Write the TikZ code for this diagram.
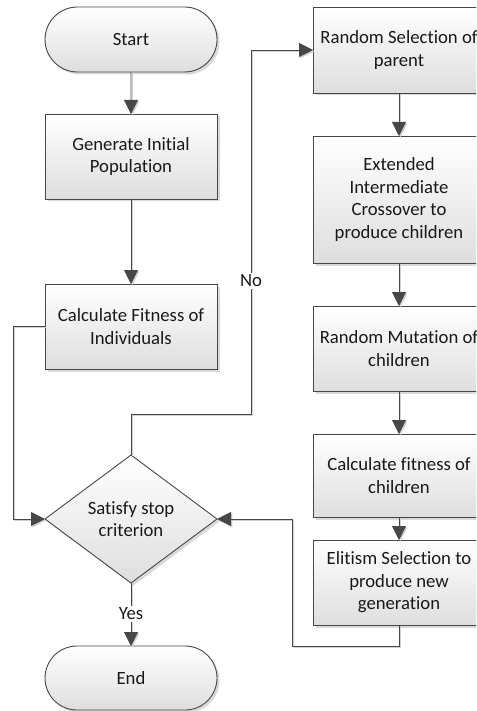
\documentclass[tikz,border=0pt]{standalone}
\usepackage{fontspec}
\setmainfont[Ligatures={NoCommon}]{Carlito}
\usetikzlibrary{shapes.geometric,shapes.misc,arrows.meta,shadows}
\tikzset{
  txt/.style={font=\fontsize{18.7}{22.5}\selectfont, text=black!90},
  shd/.style={drop shadow={shadow xshift=2.5pt, shadow yshift=-2.5pt, fill=black!15, opacity=1}},
  base/.style={txt, draw=black!72, line width=0.9pt, top color=white, bottom color=black!13,
    inner sep=0pt, outer sep=0pt, align=center, shd},
  box/.style={base, rectangle, minimum width=172pt, minimum height=85pt},
  term/.style={base, rounded rectangle, minimum width=172pt, minimum height=65pt},
  dec/.style={base, diamond, minimum width=172pt, minimum height=128pt, shape aspect=1.34},
  conn/.style={draw=black!72, line width=0.9pt,
    -{Triangle[length=14pt,width=14pt]},
    preaction={draw=black!18, line width=1pt, transform canvas={shift={(1.3pt,-1.3pt)}}}},
  lab/.style={txt, fill=white, inner sep=1.5pt}
}
\begin{document}
\begin{tikzpicture}[x=1pt,y=1pt]
\useasboundingbox (0,0) rectangle (476,-711);
\clip (0,0) rectangle (476,-711);
% left column
\node[term] (start) at (131,-39.5) {Start};
\node[box] (gen) at (131,-156.5) {Generate Initial\\Population};
\node[box] (calc) at (131,-326.5) {Calculate Fitness of\\Individuals};
\node[dec] (sat) at (131,-519) {Satisfy stop\\criterion};
\node[term, minimum height=64pt] (end) at (131,-678) {End};
% right column
\node[box, minimum height=86pt] (rs) at (399,-50) {Random Selection of\\parent};
\node[box, minimum height=127pt] (ext) at (399,-199.5) {Extended\\Intermediate\\Crossover to\\produce children};
\node[box] (mut) at (399,-348.5) {Random Mutation of\\children};
\node[box, minimum height=83pt] (cf) at (399,-475.5) {Calculate fitness of\\children};
\node[box] (eli) at (399,-582.5) {Elitism Selection to\\produce new\\generation};
% helper coordinates
\coordinate (l1) at (13,-326.5);
\coordinate (l2) at (13,-519);
\coordinate (n1) at (131,-414);
\coordinate (n2) at (251,-414);
\coordinate (n3) at (251,-50);
\coordinate (r1) at (399,-646);
\coordinate (r2) at (292,-646);
\coordinate (r3) at (292,-519);
% connectors
\draw[conn] (start) -- (gen);
\draw[conn] (gen) -- (calc);
\draw[conn] (calc.west) -- (l1) -- (l2) -- (sat.west);
\draw[conn] (sat.north) -- (n1) -- (n2) -- (n3) -- (rs.west);
\node[lab] (no) at (251,-281) {No};
\draw[conn] (sat.south) -- (end.north);
\node[lab] (yes) at (131,-614) {Yes};
\draw[conn] (rs) -- (ext);
\draw[conn] (ext) -- (mut);
\draw[conn] (mut) -- (cf);
\draw[conn] (cf) -- (eli);
\draw[conn] (eli.south) -- (r1) -- (r2) -- (r3) -- (sat.east);
\end{tikzpicture}
\end{document}
